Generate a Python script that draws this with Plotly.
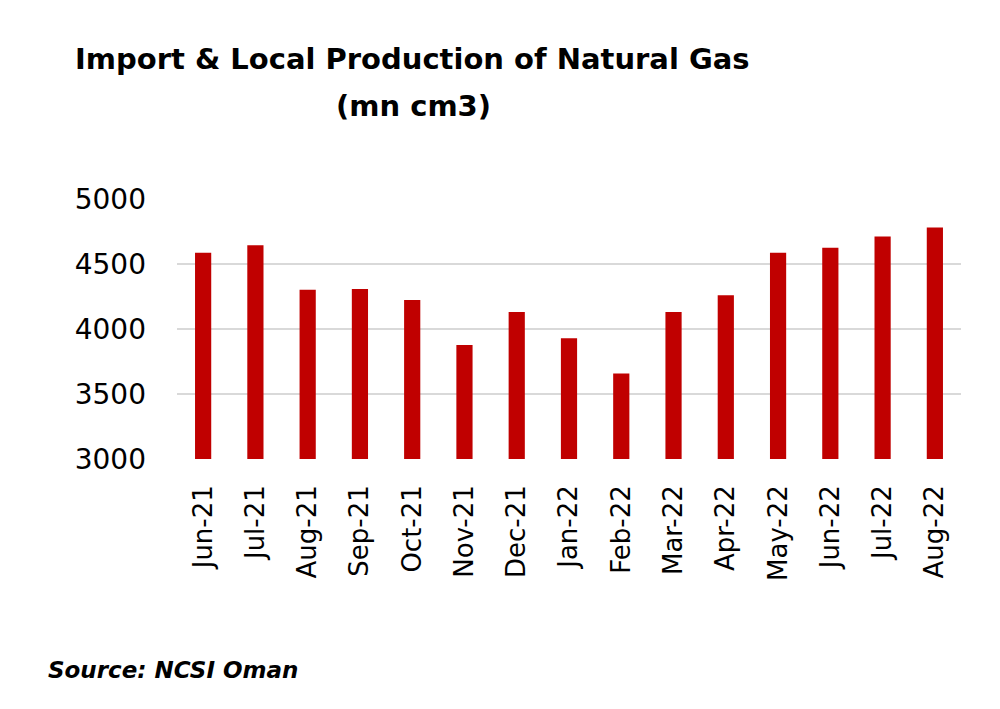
import plotly.graph_objects as go

months = ["Jun-21", "Jul-21", "Aug-21", "Sep-21", "Oct-21", "Nov-21", "Dec-21",
          "Jan-22", "Feb-22", "Mar-22", "Apr-22", "May-22", "Jun-22", "Jul-22", "Aug-22"]
gas_volume = [4586, 4645, 4301, 4308, 4224, 3877, 4131,
              3928, 3658, 4131, 4260, 4586, 4625, 4712, 4781]
y_ticks = [3000, 3500, 4000, 4500, 5000]

L, R, T, B = 177, 39, 199, 250
W, H = 1000, 709
pw, ph = W - L - R, H - T - B


def px_x(v):
    return (v - L) / pw


def px_y(v):
    return (H - B - v) / ph


fig = go.Figure()
fig.add_trace(go.Bar(
    x=months, y=gas_volume,
    marker=dict(color="#C00000", line=dict(width=0)),
    width=0.31,
))

fig.update_layout(
    width=W, height=H,
    paper_bgcolor="white", plot_bgcolor="white",
    margin=dict(l=L, r=R, t=T, b=B),
    showlegend=False,
    font=dict(family="DejaVu Sans", color="black"),
    annotations=[
        dict(text="<b>Import & Local Production of Natural Gas</b>", x=px_x(412), y=px_y(59),
             xref="paper", yref="paper", xanchor="center", yanchor="middle",
             showarrow=False, font=dict(family="DejaVu Sans", size=29)),
        dict(text="<b>(mn cm3)</b>", x=px_x(413), y=px_y(106), xref="paper", yref="paper",
             xanchor="center", yanchor="middle",
             showarrow=False, font=dict(family="DejaVu Sans", size=29)),
        dict(text="<b><i>Source: NCSI Oman</i></b>", x=px_x(46), y=px_y(670),
             xref="paper", yref="paper", xanchor="left", yanchor="middle",
             showarrow=False, font=dict(family="DejaVu Sans", size=23)),
    ],
)

fig.update_xaxes(
    tickangle=-90, tickfont=dict(size=26, family="DejaVu Sans"),
    showgrid=False, showline=False, ticks="", ticklabelstandoff=20,
)
fig.update_yaxes(
    range=[3000, 5000], tickvals=y_ticks, ticktext=[str(v) for v in y_ticks],
    tickfont=dict(size=28, family="DejaVu Sans"),
    showgrid=True, gridcolor="#D9D9D9", gridwidth=2,
    zeroline=False, showline=False, ticks="", ticklabelstandoff=30,
)

fig.write_html("out.html")
